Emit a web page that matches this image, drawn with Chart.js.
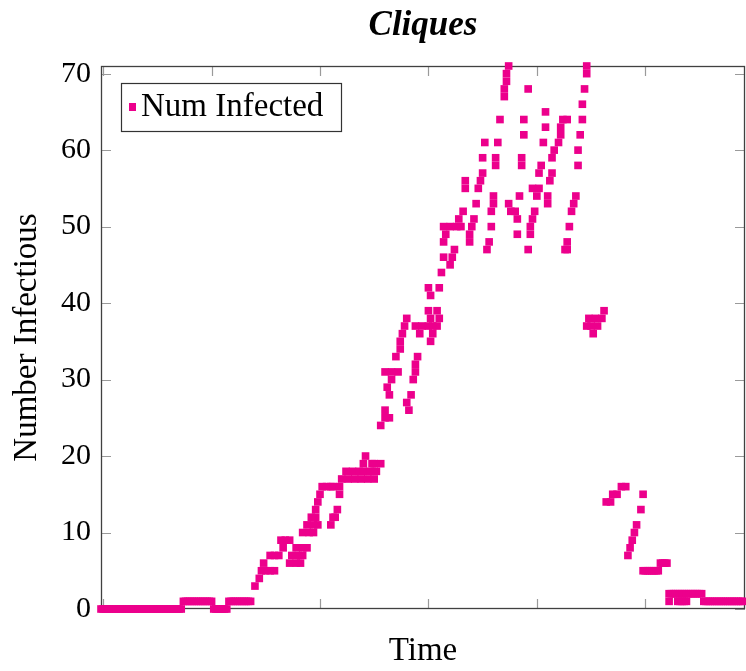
<!DOCTYPE html>
<html>
<head>
<meta charset="utf-8">
<title>Cliques</title>
<script src="https://cdn.jsdelivr.net/npm/chart.js@4.4.1/dist/chart.umd.min.js"></script>
<style>
  html, body { margin: 0; padding: 0; background: #fff; }
  #wrap { width: 746px; height: 671px; }
</style>
</head>
<body>
<div id="wrap"><canvas id="chart"></canvas></div>
<script>
// time step of each sample
const times = [
  0, 1, 2, 3, 4, 5, 6, 7, 8, 9,
  10, 11, 12, 13, 14, 15, 16, 17, 18, 19,
  20, 21, 22, 23, 24, 25, 26, 27, 28, 29,
  30, 31, 32, 33, 34, 35, 36, 37, 38, 39,
  40, 41, 42, 43, 44, 45, 46, 47, 48, 49,
  50, 51, 52, 53, 54, 55, 56, 57, 58, 59,
  60, 61, 62, 63, 64, 65, 66, 67, 68, 69,
  71, 73, 74, 75, 76, 78, 78, 80, 80, 82,
  83, 84, 85, 87, 87, 88, 90, 90, 91, 92,
  93, 93, 93, 95, 95, 96, 97, 98, 98, 99,
  99, 100, 100, 101, 102, 104, 106, 106, 107, 107,
  108, 109, 110, 110, 111, 113, 114, 116, 117, 119,
  120, 121, 121, 122, 123, 124, 125, 126, 126, 127,
  129, 129, 131, 131, 131, 132, 133, 133, 134, 134,
  136, 137, 138, 138, 139, 140, 141, 141, 142, 143,
  144, 145, 145, 145, 146, 147, 148, 151, 151, 151,
  152, 152, 152, 153, 153, 155, 155, 156, 156, 157,
  158, 158, 158, 159, 161, 161, 162, 163, 164, 165,
  166, 167, 168, 168, 170, 170, 171, 172, 173, 174,
  175, 176, 176, 177, 178, 179, 180, 180, 181, 181,
  182, 182, 183, 184, 186, 186, 187, 187, 188, 188,
  189, 191, 192, 192, 193, 194, 194, 195, 195, 197,
  197, 198, 198, 199, 199, 200, 201, 202, 202, 203,
  204, 205, 205, 206, 206, 207, 208, 208, 209, 211,
  212, 212, 213, 214, 215, 215, 215, 216, 217, 218,
  219, 220, 220, 221, 222, 222, 223, 224, 224, 224,
  225, 226, 227, 228, 229, 231, 232, 233, 235, 236,
  238, 240, 242, 243, 244, 245, 246, 247, 249, 250,
  250, 251, 252, 253, 254, 255, 256, 257,
  258, 259, 260, 261, 262,
  262, 263, 264, 265, 266, 267, 268, 269, 270, 271,
  272, 273, 274, 275, 276, 277,
  266, 267, 268, 269, 270,
  278, 279, 280, 281, 282, 283, 284, 285, 286, 287,
  288, 289, 290, 291, 292, 293, 294, 295, 296
];

// number of infectious nodes at each sample
const infected = [
  0, 0, 0, 0, 0, 0, 0, 0, 0, 0,
  0, 0, 0, 0, 0, 0, 0, 0, 0, 0,
  0, 0, 0, 0, 0, 0, 0, 0, 0, 0,
  0, 0, 0, 0, 0, 0, 0, 0, 1, 1,
  1, 1, 1, 1, 1, 1, 1, 1, 1, 1,
  1, 1, 0, 0, 0, 0, 0, 0, 0, 1,
  1, 1, 1, 1, 1, 1, 1, 1, 1, 1,
  3, 4, 5, 6, 5, 5, 7, 5, 7, 7,
  9, 8, 9, 9, 6, 7, 6, 8, 7, 6,
  7, 8, 10, 8, 11, 10, 12, 10, 11, 12,
  13, 11, 14, 15, 16, 16, 16, 11, 16, 12,
  12, 13, 15, 16, 17, 18, 17, 18, 17, 18,
  17, 18, 19, 20, 17, 18, 19, 17, 19, 18,
  19, 24, 25, 26, 31, 29, 25, 28, 30, 31,
  33, 31, 34, 35, 36, 37, 38, 27, 26, 28,
  30, 31, 32, 37, 33, 36, 37, 37, 39, 42,
  35, 38, 41, 36, 37, 37, 39, 38, 42, 44,
  46, 48, 50, 49, 45, 50, 46, 47, 50, 51,
  50, 52, 55, 56, 48, 49, 50, 51, 53, 55,
  56, 57, 59, 61, 47, 48, 50, 52, 53, 54,
  58, 59, 61, 64, 67, 68, 69, 70, 71, 53,
  52, 52, 51, 49, 54, 58, 59, 62, 64, 68,
  47, 49, 50, 51, 55, 52, 54, 55, 57, 58,
  61, 63, 65, 53, 54, 56, 57, 59, 60, 61,
  62, 63, 64, 47, 47, 48, 64, 50, 52, 53,
  54, 58, 60, 62, 64, 66, 68, 70, 71, 37,
  38, 37, 36, 38, 37, 38, 39, 14, 14, 15,
  15, 16, 16, 7, 8, 9, 10, 11, 13, 15,
  5, 5, 5, 5, 5, 5, 5, 5,
  6, 6, 6, 6, 1,
  2, 2, 2, 2, 2, 2, 2, 2, 2, 2,
  2, 2, 2, 2, 2, 2,
  1, 1, 1, 1, 1,
  1, 1, 1, 1, 1, 1, 1, 1, 1, 1,
  1, 1, 1, 1, 1, 1, 1, 1, 1
];

const yTicks = [0, 10, 20, 30, 40, 50, 60, 70];
const xTicks = [1, 51, 101, 151, 201, 251];

const MAGENTA = 'rgb(236, 0, 140)';
const SERIF = "'Liberation Serif', 'DejaVu Serif', serif";
const TICK_LEN = 10;

// pgfplots-like frame: box around the plot, ticks pointing inward on every side
const frame = {
  id: 'frame',
  beforeDatasetsDraw(chart) {
    const { ctx, chartArea: a, scales: { x, y } } = chart;
    ctx.save();
    ctx.strokeStyle = '#9a9a9a';
    ctx.lineWidth = 1.2;
    ctx.beginPath();
    xTicks.forEach(v => {
      const px = Math.round(x.getPixelForValue(v)) + 0.5;
      ctx.moveTo(px, a.bottom);
      ctx.lineTo(px, a.bottom - TICK_LEN);
      ctx.moveTo(px, a.top);
      ctx.lineTo(px, a.top + TICK_LEN);
    });
    yTicks.forEach(v => {
      const py = Math.round(y.getPixelForValue(v)) + 0.5;
      ctx.moveTo(a.left, py);
      ctx.lineTo(a.left + TICK_LEN, py);
      ctx.moveTo(a.right, py);
      ctx.lineTo(a.right - TICK_LEN, py);
    });
    ctx.stroke();
    ctx.strokeStyle = '#404040';
    ctx.lineWidth = 1.3;
    ctx.strokeRect(a.left + 0.5, a.top + 0.5, a.right - a.left - 1, a.bottom - a.top - 1);
    ctx.restore();
  },
  afterDatasetsDraw(chart) {
    // legend box in the upper left corner of the plot
    const { ctx, chartArea: a } = chart;
    const bx = a.left + 20, by = a.top + 17, bw = 220, bh = 48;
    ctx.save();
    ctx.fillStyle = '#fff';
    ctx.fillRect(bx, by, bw, bh);
    ctx.strokeStyle = '#333';
    ctx.lineWidth = 1.2;
    ctx.strokeRect(bx + 0.5, by + 0.5, bw, bh);
    ctx.fillStyle = MAGENTA;
    ctx.fillRect(bx + 8, by + 20, 7, 8);
    ctx.fillStyle = '#000';
    ctx.font = '33px ' + SERIF;
    ctx.textBaseline = 'alphabetic';
    ctx.fillText('Num Infected', bx + 20, by + 33);
    ctx.restore();
  }
};

new Chart(document.getElementById('chart'), {
  type: 'scatter',
  data: {
    datasets: [{
      label: 'Num Infected',
      data: times.map((t, i) => ({ x: t, y: infected[i] })),
      pointStyle: 'rect',
      pointRadius: 5.4,
      pointHoverRadius: 5.4,
      backgroundColor: MAGENTA,
      borderWidth: 0,
      clip: false
    }]
  },
  options: {
    responsive: true,
    maintainAspectRatio: false,
    animation: false,
    devicePixelRatio: 1,
    layout: { autoPadding: false, padding: { left: 0, right: 1, top: 0, bottom: 0 } },
    plugins: {
      legend: { display: false },
      tooltip: { enabled: false },
      title: {
        display: true,
        text: 'Cliques',
        fullSize: false,
        color: '#000',
        font: { family: SERIF, size: 35, style: 'italic', weight: 'bold', lineHeight: 1 },
        padding: { top: 8, bottom: 23 }
      }
    },
    scales: {
      x: {
        type: 'linear',
        min: 0,
        max: 297,
        afterFit: s => { s.height = 62; },
        grid: { display: false, drawTicks: false },
        border: { display: false },
        ticks: { display: false },
        title: {
          display: true,
          text: 'Time',
          color: '#000',
          font: { family: SERIF, size: 33 },
          padding: { top: 0, bottom: 0 }
        }
      },
      y: {
        min: 0,
        max: 71,
        afterBuildTicks: s => { s.ticks = yTicks.map(v => ({ value: v })); },
        afterFit: s => { s.width = 101; },
        grid: { display: false, drawTicks: false },
        border: { display: false },
        ticks: {
          color: '#000',
          padding: 10,
          font: { family: SERIF, size: 30 }
        },
        title: {
          display: true,
          text: 'Number Infectious',
          color: '#000',
          font: { family: SERIF, size: 33 },
          padding: { top: 8, bottom: 0 }
        }
      }
    }
  },
  plugins: [frame]
});
</script>
</body>
</html>
